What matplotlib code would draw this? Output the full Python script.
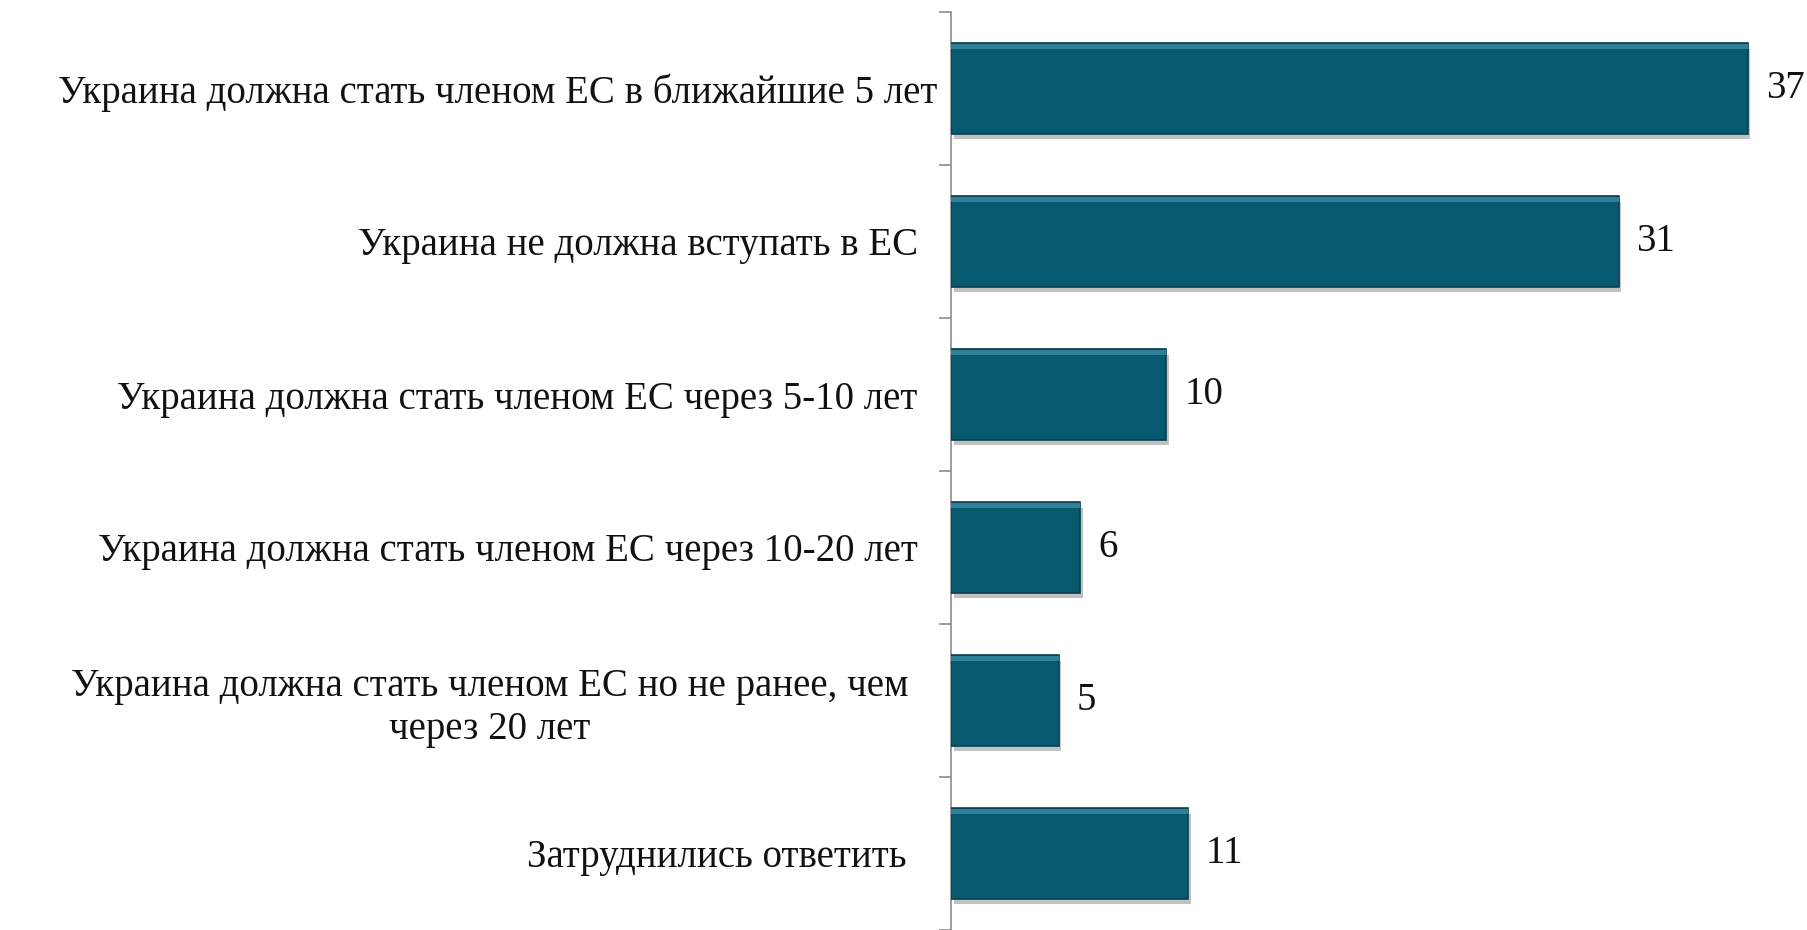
import matplotlib
matplotlib.use("Agg")
import matplotlib.pyplot as plt
import matplotlib.patheffects as pe
import matplotlib.transforms as mtransforms

categories = [
    "Украина должна стать членом ЕС в ближайшие 5 лет",
    "Украина не должна вступать в ЕС",
    "Украина должна стать членом ЕС через 5-10 лет",
    "Украина должна стать членом ЕС через 10-20 лет",
    "Украина должна стать членом ЕС но не ранее, чем\nчерез 20 лет",
    "Затруднились ответить",
]
values = [37, 31, 10, 6, 5, 11]

plt.rcParams['font.family'] = ['Liberation Serif', 'DejaVu Serif']

fig = plt.figure(figsize=(18.08, 9.30), dpi=100)
ax = fig.add_axes([951/1808, 0.0, 1 - 951/1808, 918/930])

n = len(categories)
ypos = list(range(n))
bars = ax.barh(ypos, values, height=0.59, color='#07596f', edgecolor='#0b3f50',
               linewidth=1.2, zorder=3)
for b in bars:
    b.set_path_effects([pe.SimplePatchShadow(offset=(2, -4), shadow_rgbFace='#777777', alpha=0.45),
                        pe.Normal()])
# bevel highlight along the top of each bar
ax.barh([y - 0.59/2 + 0.022 for y in ypos], values, height=0.03, color='#2f8199',
        linewidth=0, zorder=4)

ax.set_ylim(n - 0.5, -0.5)
ax.set_xlim(0, 39.8)

for y, v in zip(ypos, values):
    ax.annotate(str(v), xy=(v, y), xytext=(18, 0), textcoords='offset pixels',
                ha='left', va='center', fontsize=28, color='#111111')

ax.set_yticks(ypos)
ax.set_yticklabels(categories, fontsize=28, ha='right', multialignment='center', color='#111111')
ax.tick_params(axis='y', which='major', length=0, pad=24)
ax.set_yticks([i - 0.5 for i in range(n + 1)], minor=True)
ax.tick_params(axis='y', which='minor', length=9, width=1.2, color='#8c8c8c', direction='out')
ax.set_xticks([])

# small horizontal nudges of individual labels (pixels)
nudges = [20, 0, 0, 0, -9, -11]
for lab, dx in zip(ax.get_yticklabels(), nudges):
    lab.set_transform(lab.get_transform() + mtransforms.Affine2D().translate(dx, 0))

for s in ['top', 'right', 'bottom']:
    ax.spines[s].set_visible(False)
ax.spines['left'].set_color('#8c8c8c')
ax.spines['left'].set_linewidth(1.2)

fig.savefig('out.png', dpi=100, facecolor='white')
